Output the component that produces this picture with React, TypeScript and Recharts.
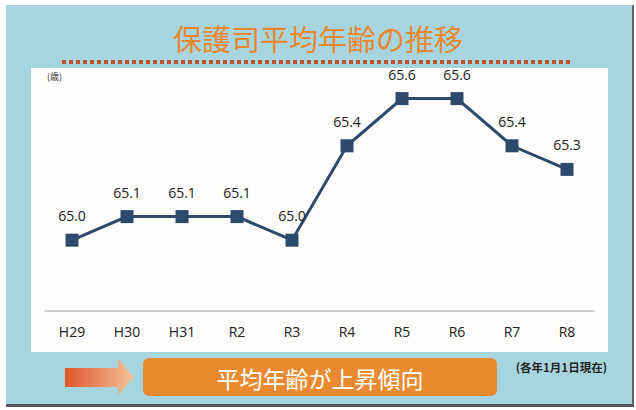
import { LineChart, Line, XAxis, YAxis, LabelList } from 'recharts';

const years = ['H29', 'H30', 'H31', 'R2', 'R3', 'R4', 'R5', 'R6', 'R7', 'R8'];
const avgAge = [65.0, 65.1, 65.1, 65.1, 65.0, 65.4, 65.6, 65.6, 65.4, 65.3];

const data = years.map((year, i) => ({ year, age: avgAge[i] }));

const NAVY = '#2d4a6d';
const ORANGE = '#ea8a30';

const SquareDot = (props: any) => {
  const { cx, cy, index } = props;
  if (cx == null || cy == null) return null;
  return <rect key={`dot-${index}`} x={cx - 6.5} y={cy - 6.5} width={13} height={13} fill={NAVY} />;
};

export default function App() {
  return (
    <div style={{ position: 'absolute', left: 0, top: 0, width: 636, height: 410, background: '#fff', overflow: 'hidden' }}>
      {/* light blue card */}
      <div
        style={{
          position: 'absolute',
          left: 6,
          top: 5,
          width: 628,
          height: 402,
          background: '#a7d5df',
          borderRight: '2px solid #666',
          borderBottom: '3px solid #555',
          boxSizing: 'border-box',
        }}
      />
      {/* white panel */}
      <div style={{ position: 'absolute', left: 31, top: 68, width: 577, height: 284, background: '#fdfdfb' }} />

      <svg width={636} height={410} style={{ position: 'absolute', left: 0, top: 0 }}>
        <text
          x={318}
          y={38}
          textAnchor="middle"
          dominantBaseline="central"
          fill="#e9872f"
          fontSize={29}
          fontFamily='"Noto Sans CJK JP", sans-serif'
        >
          保護司平均年齢の推移
        </text>
        <line x1={62} y1={62} x2={572} y2={62} stroke="#c0512b" strokeWidth={4} strokeDasharray="4 3" />
        <text x={47} y={80} fontSize={9} fill="#333" fontFamily='"Noto Sans CJK JP", sans-serif'>
          (歳)
        </text>

        {/* arrow */}
        <defs>
          <linearGradient id="arrowGrad" x1="0" y1="0" x2="1" y2="0">
            <stop offset="0%" stopColor="#e2562a" />
            <stop offset="100%" stopColor="#f3c39a" />
          </linearGradient>
        </defs>
        <polygon points="65,368 118,368 118,359 134,377 118,395 118,387 65,387" fill="url(#arrowGrad)" />

        {/* orange banner */}
        <rect x={143} y={358} width={354} height={38} rx={6} fill={ORANGE} />
        <text
          x={320}
          y={378}
          textAnchor="middle"
          dominantBaseline="central"
          fill="#fff"
          fontSize={23}
          fontFamily='"Noto Sans CJK JP", sans-serif'
        >
          平均年齢が上昇傾向
        </text>
        <text
          x={607}
          y={367}
          textAnchor="end"
          dominantBaseline="central"
          fill="#222"
          fontSize={11.5}
          fontWeight="bold"
          fontFamily='"Noto Sans CJK JP", sans-serif'
        >
          (各年1月1日現在)
        </text>
      </svg>

      <div style={{ position: 'absolute', left: 0, top: 0 }}>
        <LineChart width={636} height={410} data={data} margin={{ top: 75, right: 41.5, bottom: 69, left: 44.5 }}>
          <XAxis
            dataKey="year"
            height={30}
            padding={{ left: 27.5, right: 27.5 }}
            axisLine={{ stroke: '#a0a4a8', strokeWidth: 1 }}
            tickLine={false}
            tickMargin={10}
            tick={{ fill: '#222', fontSize: 14, fontFamily: '"Open Sans", sans-serif' }}
            interval={0}
          />
          <YAxis hide domain={[64.7, 65.7]} />
          <Line
            type="linear"
            dataKey="age"
            stroke={NAVY}
            strokeWidth={3}
            dot={<SquareDot />}
            activeDot={false}
            isAnimationActive={false}
          >
            <LabelList
              dataKey="age"
              position="top"
              offset={19}
              formatter={(v: any) => Number(v).toFixed(1)}
              style={{ fill: '#222', fontSize: 14, fontFamily: '"Open Sans", sans-serif' }}
            />
          </Line>
        </LineChart>
      </div>
    </div>
  );
}
